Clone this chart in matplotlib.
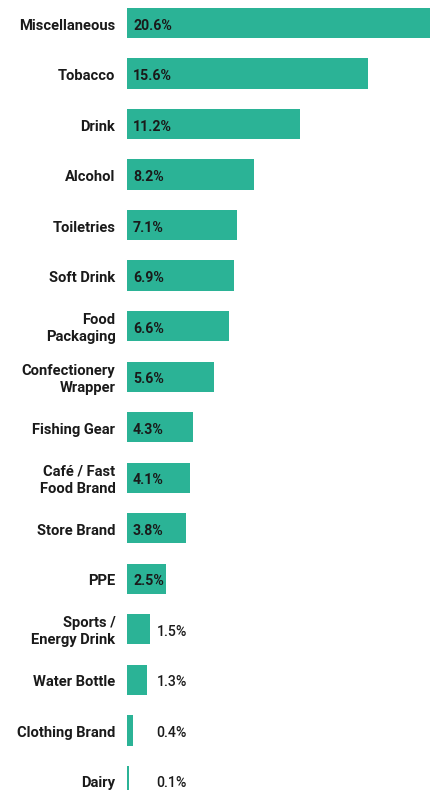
import matplotlib

matplotlib.use("Agg")

import matplotlib.pyplot as plt

categories = [
    "Miscellaneous", "Tobacco", "Drink", "Alcohol", "Toiletries", "Soft Drink",
    "Food\nPackaging", "Confectionery\nWrapper", "Fishing Gear",
    "Café / Fast\nFood Brand", "Store Brand", "PPE", "Sports /\nEnergy Drink",
    "Water Bottle", "Clothing Brand", "Dairy",
]
shares = [20.6, 15.6, 11.2, 8.2, 7.1, 6.9, 6.6, 5.6, 4.3, 4.1, 3.8, 2.5, 1.5, 1.3, 0.4, 0.1]

BAR = "#2bb396"
TEXT = "#1a1a1a"

plt.rcParams["font.family"] = ["Roboto", "DejaVu Sans"]

fig = plt.figure(figsize=(4.3, 7.9), dpi=100)
ax = fig.add_axes([127 / 430, 0, 303 / 430, 1])

n = len(categories)
ys = list(range(n))
ax.barh(ys, shares, height=0.6, color=BAR, clip_on=True)

for y, label, v in zip(ys, categories, shares):
    ax.text(-0.75, y + 0.05, label, ha="right", va="center", multialignment="right",
            fontsize=10.6, fontweight="bold", color=TEXT, linespacing=1.25,
            clip_on=False)
    if v >= 2:
        ax.text(0.39, y + 0.05, f"{v}%", ha="left", va="center", fontsize=10.2,
                fontweight="bold", color=TEXT)
    else:
        ax.text(1.9, y + 0.05, f"{v}%", ha="left", va="center", fontsize=10.2,
                fontweight="medium", color=TEXT)

ax.set_xlim(0, 303 / 15.45)
ax.set_ylim(n - 1 + 0.18, -0.455)
ax.axis("off")

fig.savefig("out.png", dpi=100)
